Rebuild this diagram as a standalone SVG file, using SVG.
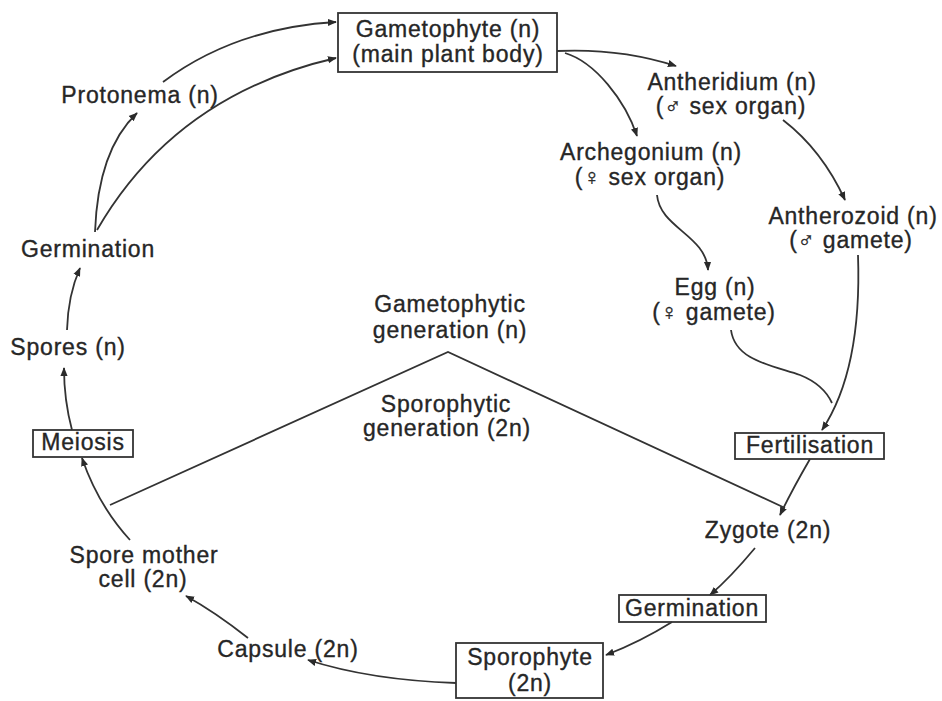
<svg xmlns="http://www.w3.org/2000/svg" width="942" height="701" viewBox="0 0 942 701">
<style>
text{font-family:"Liberation Sans",Arial,"DejaVu Sans",sans-serif;font-size:23px;letter-spacing:0.8px;fill:#262626;stroke:#262626;stroke-width:0.35;text-anchor:middle}
.box{fill:none;stroke:#333;stroke-width:1.8}
.c path,.c line,.c polyline{fill:none;stroke:#333;stroke-width:1.8}
</style>
<defs>
<marker id="ah" viewBox="0 0 10 10" refX="9" refY="5" markerWidth="9" markerHeight="9" markerUnits="userSpaceOnUse" orient="auto">
<path d="M0,1 L10,5 L0,9 Z" fill="#2a2a2a"/>
</marker>
</defs>
<rect width="942" height="701" fill="#fff"/>

<g id="connectors" class="c">
<path d="M163,82 Q235,28 336,22" marker-end="url(#ah)"/>
<path d="M95,232 Q98,150 137,113" marker-end="url(#ah)"/>
<path d="M97,230 Q175,95 336,58" marker-end="url(#ah)"/>
<path d="M67,330 Q68,295 80,268" marker-end="url(#ah)"/>
<path d="M72,430 Q64,400 64,368" marker-end="url(#ah)"/>
<path d="M130,540 Q98,505 82,458" marker-end="url(#ah)"/>
<path d="M248,638 Q215,612 186,596" marker-end="url(#ah)"/>
<path d="M456,683 Q370,680 308,660" marker-end="url(#ah)"/>
<path d="M672,622 Q640,642 606,655" marker-end="url(#ah)"/>
<path d="M755,548 Q730,578 710,595" marker-end="url(#ah)"/>
<path d="M810,459 Q792,490 780,515" marker-end="url(#ah)"/>
<path d="M858,255 Q862,370 822,430" marker-end="url(#ah)"/>
<path d="M731,330 C735,360 770,365 800,375 C815,381 826,390 832,403"/>
<path d="M657,195 C660,228 706,235 708,270" marker-end="url(#ah)"/>
<path d="M783,120 Q822,150 845,200" marker-end="url(#ah)"/>
<path d="M557,51 Q620,48 676,66" marker-end="url(#ah)"/>
<path d="M565,53 C595,62 625,100 637,136" marker-end="url(#ah)"/>
<polyline points="110,505 448,352 785,508"/>
</g>

<g id="gametophyte"><rect class="box" x="338" y="13" width="219" height="59"/><text x="448" y="37">Gametophyte (n)</text><text x="448" y="62">(main plant body)</text></g>
<g id="antheridium"><text x="732" y="90">Antheridium (n)</text><text x="731" y="114">(♂ sex organ)</text></g>
<g id="archegonium"><text x="651" y="160">Archegonium (n)</text><text x="650" y="185">(♀ sex organ)</text></g>
<g id="antherozoid"><text x="853" y="224">Antherozoid (n)</text><text x="851" y="248">(♂ gamete)</text></g>
<g id="egg"><text x="715" y="295">Egg (n)</text><text x="714" y="320">(♀ gamete)</text></g>
<g id="fertilisation"><rect class="box" x="735" y="433" width="149" height="26"/><text x="810" y="453">Fertilisation</text></g>
<g id="zygote"><text x="768" y="538">Zygote (2n)</text></g>
<g id="germination2"><rect class="box" x="619" y="595" width="147" height="27"/><text x="692" y="616">Germination</text></g>
<g id="sporophyte"><rect class="box" x="456" y="643" width="147" height="55"/><text x="530" y="665">Sporophyte</text><text x="530" y="691">(2n)</text></g>
<g id="capsule"><text x="288" y="657">Capsule (2n)</text></g>
<g id="spore-mother-cell"><text x="144" y="563">Spore mother</text><text x="143" y="587">cell (2n)</text></g>
<g id="meiosis"><rect class="box" x="33" y="430" width="100" height="27"/><text x="83" y="450">Meiosis</text></g>
<g id="spores"><text x="68" y="355">Spores (n)</text></g>
<g id="germination1"><text x="88" y="257">Germination</text></g>
<g id="protonema"><text x="140" y="103">Protonema (n)</text></g>
<g id="gametophytic-generation"><text x="450" y="312">Gametophytic</text><text x="450" y="338">generation (n)</text></g>
<g id="sporophytic-generation"><text x="446" y="412">Sporophytic</text><text x="447" y="436">generation (2n)</text></g>
</svg>
